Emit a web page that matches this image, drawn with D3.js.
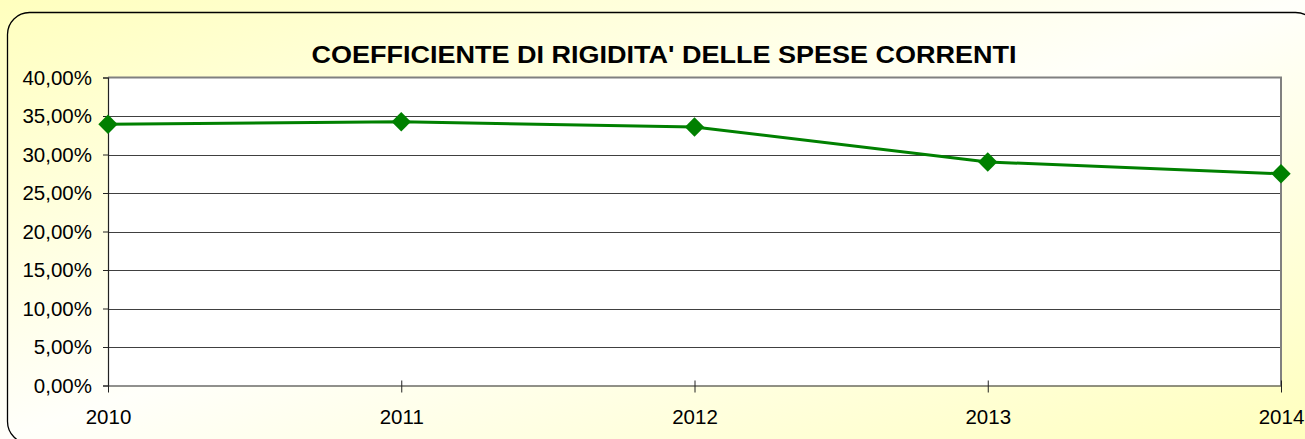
<!DOCTYPE html>
<html>
<head>
<meta charset="utf-8">
<script src="https://cdn.jsdelivr.net/npm/d3@7"></script>
<style>
  html, body { margin: 0; padding: 0; background: #ffffff; }
  svg { display: block; }
</style>
</head>
<body>
<svg id="chart" width="1305" height="439"></svg>
<script>
// Rigidity coefficient of current expenditure, by year
const years = ["2010", "2011", "2012", "2013", "2014"];
const rigidity = [33.92, 34.26, 33.57, 29.03, 27.50];
const yTicks = [0, 5, 10, 15, 20, 25, 30, 35, 40];
const title = "COEFFICIENTE DI RIGIDITA' DELLE SPESE CORRENTI";

const W = 1305, H = 439;
const plot = { left: 108, right: 1281, top: 77.5, bottom: 385.5 };

const svg = d3.select("#chart");
const defs = svg.append("defs");

// diagonal yellow / white / yellow fill of the chart frame
const grad = defs.append("linearGradient")
  .attr("id", "frameFill")
  .attr("x1", 0).attr("y1", 0).attr("x2", 1).attr("y2", 1);
grad.append("stop").attr("offset", "0%").attr("stop-color", "#ffffbe");
grad.append("stop").attr("offset", "50%").attr("stop-color", "#fffffa");
grad.append("stop").attr("offset", "100%").attr("stop-color", "#ffffbe");

svg.append("rect")
  .attr("x", 0).attr("y", 0).attr("width", W).attr("height", H)
  .attr("fill", "url(#frameFill)");

// rounded frame border
svg.append("rect")
  .attr("x", 7.5).attr("y", 12.5)
  .attr("width", 1310).attr("height", 431)
  .attr("rx", 22).attr("ry", 22)
  .attr("fill", "none")
  .attr("stroke", "#000").attr("stroke-width", 1.3);

// title
svg.append("text")
  .attr("x", 664).attr("y", 63)
  .attr("text-anchor", "middle")
  .attr("font-family", "'Liberation Sans', Arial, sans-serif")
  .attr("font-weight", "bold")
  .attr("font-size", 24)
  .attr("textLength", 705)
  .attr("lengthAdjust", "spacingAndGlyphs")
  .attr("fill", "#000")
  .text(title);

const x = d3.scalePoint().domain(years).range([plot.left, plot.right]);
const y = d3.scaleLinear().domain([0, 40]).range([plot.bottom, plot.top]);

// plot area background
svg.append("rect")
  .attr("x", plot.left).attr("y", plot.top)
  .attr("width", plot.right - plot.left).attr("height", plot.bottom - plot.top)
  .attr("fill", "#ffffff");

// horizontal gridlines
svg.append("g")
  .selectAll("line")
  .data(yTicks.filter(v => v > 0 && v < 40))
  .join("line")
  .attr("x1", plot.left).attr("x2", plot.right)
  .attr("y1", d => Math.round(y(d)) + 0.5).attr("y2", d => Math.round(y(d)) + 0.5)
  .attr("stroke", "#404040").attr("stroke-width", 1);

// plot area border (top and right)
svg.append("path")
  .attr("d", `M${plot.left},${plot.top}H${plot.right}V${plot.bottom}`)
  .attr("fill", "none")
  .attr("stroke", "#808080").attr("stroke-width", 2);

const fmt = v => d3.format(".2f")(v).replace(".", ",") + "%";

// y axis
const yAxis = svg.append("g")
  .attr("transform", `translate(${plot.left},0)`)
  .call(d3.axisLeft(y).tickValues(yTicks).tickFormat(fmt).tickSize(5).tickPadding(11));
yAxis.select(".domain").attr("stroke", "#222").attr("stroke-width", 1.2);
yAxis.selectAll(".tick line").attr("stroke", "#222");
yAxis.selectAll("text")
  .attr("font-family", "'Liberation Sans', Arial, sans-serif")
  .attr("font-size", 20.5).attr("fill", "#000");

// x axis with ticks crossing the axis line
const xAxis = svg.append("g")
  .attr("transform", `translate(0,${plot.bottom})`)
  .call(d3.axisBottom(x).tickSizeInner(7).tickSizeOuter(0).tickPadding(17));
xAxis.select(".domain").attr("stroke", "#222").attr("stroke-width", 1.2);
xAxis.selectAll(".tick line").attr("y1", -5).attr("stroke", "#222");
xAxis.selectAll("text")
  .attr("font-family", "'Liberation Sans', Arial, sans-serif")
  .attr("font-size", 20.5).attr("fill", "#000");

// series line
const data = years.map((yr, i) => ({ yr, v: rigidity[i] }));
svg.append("path")
  .datum(data)
  .attr("fill", "none")
  .attr("stroke", "#008000").attr("stroke-width", 3)
  .attr("d", d3.line().x(d => x(d.yr)).y(d => y(d.v)));

// diamond markers
const diamond = d3.symbol().type(d3.symbolDiamond2).size(240);
svg.append("g")
  .selectAll("path")
  .data(data)
  .join("path")
  .attr("transform", d => `translate(${x(d.yr)},${y(d.v)})`)
  .attr("d", diamond)
  .attr("fill", "#008000");
</script>
</body>
</html>
